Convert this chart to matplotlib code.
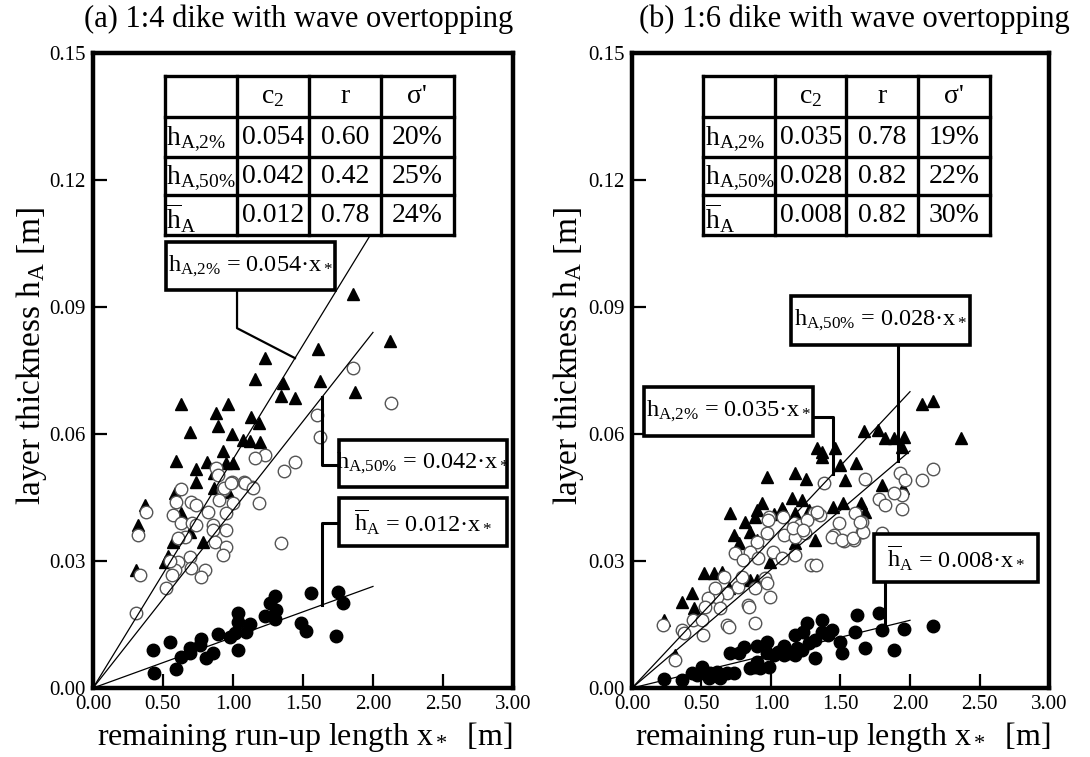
import matplotlib.pyplot as plt
from matplotlib.patches import Rectangle

plt.rcParams['font.family'] = ['Liberation Serif', 'DejaVu Serif']
plt.rcParams['mathtext.fontset'] = 'custom'
plt.rcParams['mathtext.rm'] = 'Liberation Serif'
plt.rcParams['mathtext.it'] = 'Liberation Serif:italic'
plt.rcParams['mathtext.bf'] = 'Liberation Serif:bold'

# ---- data ----
titles = ["(a) 1:4 dike with wave overtopping", "(b) 1:6 dike with wave overtopping"]
x_ticks = [0.0, 0.5, 1.0, 1.5, 2.0, 2.5, 3.0]
y_ticks = [0.0, 0.03, 0.06, 0.09, 0.12, 0.15]

# (a) 1:4 dike: (x*, h_A) pairs
a_tri = [(1.857, 0.093), (2.12, 0.082), (1.607, 0.080), (1.229, 0.078), (1.157, 0.073),
         (1.357, 0.072), (1.62, 0.0725), (1.871, 0.070), (1.343, 0.069), (1.443, 0.0685),
         (0.629, 0.067), (0.964, 0.067), (0.879, 0.065), (0.893, 0.062), (0.693, 0.0605),
         (0.993, 0.060), (1.129, 0.064), (1.186, 0.0626), (1.071, 0.0586), (1.121, 0.0584),
         (1.193, 0.058), (0.929, 0.056), (0.593, 0.0536), (0.814, 0.0534), (0.736, 0.0517),
         (0.95, 0.0531), (1.0, 0.0531), (0.736, 0.0487), (0.864, 0.0508), (0.864, 0.0472),
         (0.964, 0.0463), (0.586, 0.0461), (0.371, 0.0432), (0.321, 0.0385), (0.629, 0.0413),
         (0.693, 0.0368), (0.571, 0.0345), (0.786, 0.0345), (0.536, 0.0312), (0.514, 0.0298),
         (0.307, 0.0279)]
a_circ = [(1.857, 0.0756), (2.129, 0.0673), (1.6, 0.0645), (1.62, 0.0593), (1.871, 0.0567),
          (1.443, 0.0534), (1.364, 0.0513), (1.229, 0.055), (1.157, 0.0543), (0.879, 0.052),
          (0.893, 0.0503), (0.993, 0.0487), (1.079, 0.0487), (1.136, 0.0475), (0.629, 0.047),
          (0.929, 0.0468), (0.7, 0.0439), (0.593, 0.0439), (0.379, 0.0416), (0.571, 0.0409),
          (0.736, 0.0432), (0.821, 0.0416), (0.9, 0.0444), (0.936, 0.0472), (0.986, 0.0484),
          (1.086, 0.0484), (1.143, 0.0472), (1.186, 0.0437), (1.0, 0.0437), (0.95, 0.0413),
          (0.321, 0.0361), (0.629, 0.039), (0.707, 0.039), (0.657, 0.0357), (0.607, 0.0354),
          (0.736, 0.0385), (0.857, 0.0385), (0.857, 0.0373), (0.95, 0.0373), (0.871, 0.0345),
          (0.95, 0.0333), (0.929, 0.0314), (0.693, 0.0309), (0.607, 0.0298), (0.586, 0.0279),
          (0.7, 0.0283), (0.8, 0.0279), (0.771, 0.0262), (0.564, 0.0267), (0.336, 0.0267),
          (0.521, 0.0236), (1.343, 0.0342), (0.307, 0.0177), (0.55, 0.030)]
a_dot = [(0.429, 0.009), (0.436, 0.0035), (0.55, 0.0109), (0.593, 0.0045), (0.629, 0.0073),
         (0.693, 0.0094), (0.693, 0.0083), (0.771, 0.0116), (0.764, 0.0102), (0.807, 0.0071),
         (0.857, 0.0083), (0.893, 0.0128), (0.979, 0.012), (1.014, 0.013), (1.036, 0.009),
         (1.036, 0.0177), (1.036, 0.0156), (1.093, 0.0132), (1.121, 0.0151), (1.229, 0.017),
         (1.264, 0.0201), (1.3, 0.0217), (1.307, 0.0184), (1.3, 0.0163), (1.486, 0.0154),
         (1.521, 0.0135), (1.557, 0.0224), (1.736, 0.0123), (1.75, 0.0227), (1.786, 0.0201)]
a_c2 = [0.054, 0.042, 0.012]
a_r = ["0.60", "0.42", "0.78"]
a_sigma = ["20%", "25%", "24%"]

# (b) 1:6 dike
b_tri = [(2.086, 0.0671), (2.165, 0.0678), (2.367, 0.059), (1.669, 0.0607), (1.77, 0.0609),
         (1.82, 0.059), (1.885, 0.059), (1.957, 0.0593), (1.942, 0.0569), (1.331, 0.0567),
         (1.367, 0.0557), (1.367, 0.0546), (1.46, 0.0567), (1.496, 0.0527), (1.612, 0.0531),
         (1.532, 0.0491), (1.799, 0.0479), (1.95, 0.0472), (0.971, 0.0498), (1.173, 0.0508),
         (1.252, 0.0494), (0.705, 0.0413), (0.935, 0.0437), (0.899, 0.042), (0.885, 0.0404),
         (1.079, 0.0425), (1.151, 0.0449), (1.223, 0.0444), (1.273, 0.042), (1.173, 0.0413),
         (1.446, 0.0428), (1.518, 0.0437), (1.647, 0.0437), (1.676, 0.0416), (0.813, 0.0392),
         (0.849, 0.0368), (0.734, 0.0361), (0.77, 0.0342), (0.899, 0.035), (1.173, 0.0342),
         (1.317, 0.035), (0.518, 0.0272), (0.647, 0.0274), (0.59, 0.0272), (0.432, 0.0224),
         (0.36, 0.0203), (0.446, 0.0189), (0.576, 0.0227), (0.698, 0.0236), (0.849, 0.0255),
         (0.899, 0.0255), (0.993, 0.0298), (0.23, 0.0161), (0.309, 0.0078), (1.022, 0.0411),
         (1.094, 0.0416)]
b_circ = [(2.165, 0.0517), (2.086, 0.0491), (1.928, 0.0508), (1.964, 0.0491), (1.942, 0.0456),
          (1.885, 0.0461), (1.942, 0.0423), (1.777, 0.0446), (1.82, 0.0432), (1.676, 0.0494),
          (1.381, 0.0484), (1.353, 0.0409), (1.309, 0.0413), (1.604, 0.0413), (1.655, 0.0392),
          (1.655, 0.0368), (1.597, 0.035), (1.525, 0.0347), (1.453, 0.0361), (1.489, 0.039),
          (0.986, 0.0404), (1.094, 0.0361), (1.173, 0.0357), (1.165, 0.039), (1.209, 0.0385),
          (1.259, 0.0397), (1.245, 0.0366), (1.331, 0.0416), (1.439, 0.0357), (1.511, 0.035),
          (1.59, 0.0354), (1.662, 0.0368), (1.799, 0.0366), (1.64, 0.0392), (1.288, 0.0291),
          (1.324, 0.0291), (1.086, 0.0404), (1.158, 0.0378), (1.23, 0.0373), (0.978, 0.0397),
          (0.971, 0.0366), (0.899, 0.0345), (0.849, 0.0321), (0.741, 0.0319), (0.799, 0.0302),
          (0.906, 0.0307), (1.014, 0.0321), (1.079, 0.0307), (1.173, 0.0314), (0.957, 0.026),
          (0.885, 0.0236), (0.993, 0.0215), (0.835, 0.0196), (0.763, 0.0239), (0.683, 0.0224),
          (0.612, 0.0215), (0.547, 0.0213), (0.633, 0.0189), (0.525, 0.0191), (0.439, 0.0161),
          (0.504, 0.0161), (0.683, 0.0149), (0.885, 0.0154), (0.511, 0.0125), (0.36, 0.0137),
          (0.223, 0.0149), (0.309, 0.0066), (0.971, 0.0248), (0.842, 0.0191), (0.698, 0.0144),
          (0.374, 0.013), (0.66, 0.0262), (0.597, 0.0236), (0.79, 0.0262)]
b_dot = [(0.23, 0.0021), (0.36, 0.0019), (0.432, 0.0035), (0.504, 0.005), (0.561, 0.0035),
         (0.554, 0.0024), (0.612, 0.0038), (0.633, 0.0024), (0.683, 0.0035), (0.734, 0.0035),
         (0.468, 0.0031), (0.705, 0.0083), (0.77, 0.0083), (0.806, 0.0097), (0.849, 0.0047),
         (0.885, 0.005), (0.921, 0.0047), (0.986, 0.005), (0.899, 0.0061), (0.899, 0.0099),
         (0.971, 0.0109), (0.971, 0.0083), (1.022, 0.0078), (1.094, 0.0099), (1.094, 0.0078),
         (1.13, 0.0083), (1.173, 0.0078), (1.187, 0.0094), (1.223, 0.009), (1.173, 0.0125),
         (1.23, 0.0132), (1.273, 0.0106), (1.317, 0.0113), (1.317, 0.0071), (1.259, 0.0154),
         (1.367, 0.0161), (1.367, 0.0132), (1.439, 0.0137), (1.496, 0.0109), (1.511, 0.0083),
         (1.619, 0.0172), (1.604, 0.0132), (1.676, 0.0094), (1.777, 0.0177), (1.799, 0.0137),
         (1.885, 0.009), (1.957, 0.0139), (2.165, 0.0146), (1.41, 0.0125), (1.05, 0.0085)]
b_c2 = [0.035, 0.028, 0.008]
b_r = ["0.78", "0.82", "0.82"]
b_sigma = ["19%", "22%", "30%"]

x_fit_end = 2.0
row_labels = [r'$\mathrm{h}_{\mathrm{A{,}2\%}}$', r'$\mathrm{h}_{\mathrm{A{,}50\%}}$',
              r'$\overline{\mathrm{h}}_{\mathrm{A}}$']
col_labels = [r'c$_2$', 'r', "σ'"]
fs_tab = 20
fs_box = 17.5

fig = plt.figure(figsize=(10.9, 7.57), dpi=100)
ax_a = fig.add_axes([0.0853, 0.0911, 0.3853, 0.8389])
ax_b = fig.add_axes([0.5798, 0.0911, 0.3826, 0.8389])


def draw_table(ax, c2, r, sigma):
    tx = [0.171, 0.343, 0.514, 0.686, 0.859]
    ty = [0.964, 0.899, 0.836, 0.776, 0.713]
    ax.add_patch(Rectangle((tx[0], ty[-1]), tx[-1] - tx[0], ty[0] - ty[-1],
                           transform=ax.transAxes, fc='white', ec='none', zorder=5))
    for x in tx:
        ax.plot([x, x], [ty[-1], ty[0]], transform=ax.transAxes, color='black',
                lw=2.4, zorder=6, solid_capstyle='projecting')
    for y in ty:
        ax.plot([tx[0], tx[-1]], [y, y], transform=ax.transAxes, color='black',
                lw=2.4, zorder=6, solid_capstyle='projecting')
    cx = [(tx[i] + tx[i + 1]) / 2 for i in range(4)]
    cy = [(ty[i] + ty[i + 1]) / 2 for i in range(4)]
    for j, lab in enumerate(col_labels):
        ax.text(cx[j + 1], cy[0], lab, transform=ax.transAxes, ha='center', va='center',
                fontsize=fs_tab, zorder=7)
    for i in range(3):
        ax.text(tx[0] + 0.004, cy[i + 1] - 0.004, row_labels[i], transform=ax.transAxes,
                ha='left', va='center', fontsize=fs_tab, zorder=7)
        ax.text(cx[1], cy[i + 1], f"{c2[i]:.3f}", transform=ax.transAxes, ha='center',
                va='center', fontsize=fs_tab, zorder=7)
        ax.text(cx[2], cy[i + 1], r[i], transform=ax.transAxes, ha='center',
                va='center', fontsize=fs_tab, zorder=7)
        ax.text(cx[3], cy[i + 1], sigma[i], transform=ax.transAxes, ha='center',
                va='center', fontsize=fs_tab, zorder=7)


def draw_box(ax, x0, y0, x1, y1, text):
    ax.add_patch(Rectangle((x0, y0), x1 - x0, y1 - y0, transform=ax.transAxes,
                           fc='white', ec='black', lw=2.6, zorder=6))
    ax.text((x0 + x1) / 2, (y0 + y1) / 2, text, transform=ax.transAxes,
            ha='center', va='center', fontsize=fs_box, zorder=7)


def draw_panel(ax, tri, circ, dot, c2, r, sigma):
    ax.plot([p[0] for p in tri], [p[1] for p in tri], '^', color='black', ms=9,
            mec='black', zorder=3, clip_on=False)
    ax.plot([p[0] for p in circ], [p[1] for p in circ], 'o', mfc='white', mec='#555555',
            mew=1.0, ms=9, zorder=3.2)
    ax.plot([p[0] for p in dot], [p[1] for p in dot], 'o', color='black', ms=9, zorder=3.4)
    for c in c2:
        ax.plot([0, x_fit_end], [0, c * x_fit_end], color='black', lw=0.9, zorder=3.5)
    ax.set_xlim(0, 3.0)
    ax.set_ylim(0, 0.15)
    ax.set_xticks(x_ticks)
    ax.set_yticks(y_ticks)
    ax.set_xticklabels([f"{v:.2f}" for v in x_ticks])
    ax.set_yticklabels([f"{v:.2f}" for v in y_ticks])
    ax.tick_params(direction='in', length=10, width=1.6, labelsize=15, pad=5,
                   top=False, right=False)
    for s in ax.spines.values():
        s.set_linewidth(3.2)
    draw_table(ax, c2, r, sigma)


draw_panel(ax_a, a_tri, a_circ, a_dot, a_c2, a_r, a_sigma)
draw_panel(ax_b, b_tri, b_circ, b_dot, b_c2, b_r, b_sigma)

# (a) equation boxes and leader lines
draw_box(ax_a, 0.174, 0.627, 0.576, 0.702, r'$\mathrm{h}_{\mathrm{A{,}2\%}}$ = 0.054·x$_*$')
draw_box(ax_a, 0.586, 0.3165, 0.986, 0.3906, r'$\mathrm{h}_{\mathrm{A{,}50\%}}$ = 0.042·x$_*$')
draw_box(ax_a, 0.586, 0.2236, 0.986, 0.2992, r'$\overline{\mathrm{h}}_{\mathrm{A}}$ = 0.012·x$_*$')
ax_a.plot([1.029, 1.029, 1.443], [0.094, 0.085, a_c2[0] * 1.443], color='black', lw=1.6, zorder=4)
ax_a.plot([1.636, 1.636, 1.757], [a_c2[1] * 1.636, 0.0527, 0.0527], color='black', lw=2.2, zorder=4)
ax_a.plot([1.636, 1.636, 1.757], [a_c2[2] * 1.636, 0.039, 0.039], color='black', lw=2.2, zorder=4)

# (b) equation boxes and leader lines
draw_box(ax_b, 0.381, 0.540, 0.811, 0.617, r'$\mathrm{h}_{\mathrm{A{,}50\%}}$ = 0.028·x$_*$')
draw_box(ax_b, 0.029, 0.397, 0.434, 0.474, r'$\mathrm{h}_{\mathrm{A{,}2\%}}$ = 0.035·x$_*$')
draw_box(ax_b, 0.580, 0.167, 0.974, 0.2425, r'$\overline{\mathrm{h}}_{\mathrm{A}}$ = 0.008·x$_*$')
ax_b.plot([1.914, 1.914], [0.081, b_c2[1] * 1.914], color='black', lw=2.2, zorder=4)
ax_b.plot([1.302, 1.446, 1.446], [0.064, 0.064, b_c2[0] * 1.446], color='black', lw=2.2, zorder=4)
ax_b.plot([1.82, 1.82], [0.025, b_c2[2] * 1.82], color='black', lw=2.2, zorder=4)

# titles and axis labels
fig.text(0.274, 0.975, titles[0], ha='center', va='center', fontsize=22)
fig.text(0.784, 0.975, titles[1], ha='center', va='center', fontsize=22)
for xc in (0.28, 0.773):
    fig.text(xc, 0.026, r'remaining run-up length x$_*$  [m]', ha='center', va='center',
             fontsize=23)
for xc in (0.029, 0.522):
    fig.text(xc, 0.53, r'layer thickness h$_\mathrm{A}$ [m]', ha='center', va='center',
             rotation=90, fontsize=24)

fig.savefig('out.png', dpi=100, facecolor='white')
